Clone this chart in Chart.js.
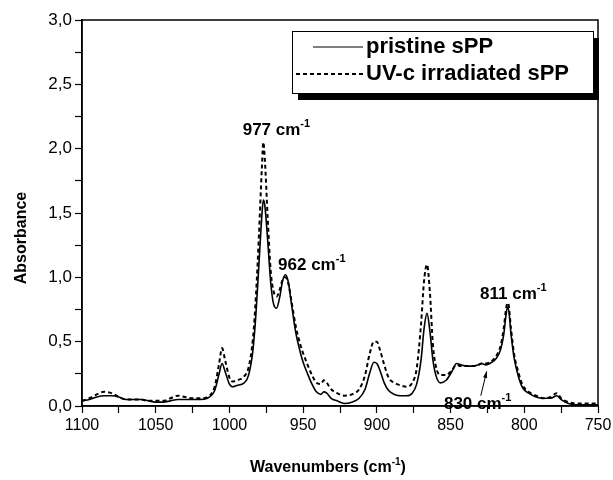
<!DOCTYPE html>
<html lang="en">
<head>
  <meta charset="UTF-8" />
  <title>FTIR sPP</title>
  <script src="https://cdn.jsdelivr.net/npm/chart.js"></script>
  <style>
    html, body { margin: 0; padding: 0; background: #fff; }
    #wrap { width: 613px; height: 480px; position: relative; }
  </style>
</head>
<body>
  <div id="wrap"><canvas id="ftir"></canvas></div>
  <script>
    // wavenumbers (cm-1) and absorbance
    const wavenumbers = [1100, 1095, 1090, 1085, 1080, 1075, 1070, 1065, 1060, 1055, 1050, 1045, 1040, 1035, 1030, 1025, 1020, 1015, 1010, 1007, 1005, 1003, 1000, 998, 995, 990, 987, 984, 982, 980, 978, 977, 976, 974, 972, 970, 968, 966, 964, 962, 960, 958, 955, 952, 950, 947, 944, 941, 938, 936, 934, 931, 927, 922, 917, 912, 908, 905, 902, 900, 898, 895, 892, 888, 884, 880, 876, 873, 870, 868, 866, 864, 862, 860, 857, 853, 849, 846, 843, 839, 835, 831, 829, 826, 822, 819, 816, 814, 812, 811, 809, 807, 804, 801, 797, 792, 787, 782, 778, 775, 770, 765, 760, 755, 750];
    const pristine = [0.04, 0.05, 0.07, 0.08, 0.08, 0.07, 0.05, 0.05, 0.05, 0.04, 0.03, 0.03, 0.04, 0.05, 0.05, 0.05, 0.05, 0.06, 0.12, 0.25, 0.33, 0.27, 0.17, 0.15, 0.16, 0.18, 0.24, 0.44, 0.72, 1.10, 1.48, 1.60, 1.56, 1.28, 0.96, 0.79, 0.76, 0.84, 0.97, 1.02, 0.96, 0.80, 0.57, 0.42, 0.34, 0.25, 0.17, 0.11, 0.09, 0.11, 0.10, 0.06, 0.04, 0.02, 0.03, 0.06, 0.13, 0.25, 0.34, 0.33, 0.28, 0.18, 0.12, 0.09, 0.08, 0.08, 0.10, 0.17, 0.36, 0.60, 0.72, 0.58, 0.36, 0.24, 0.18, 0.20, 0.27, 0.33, 0.32, 0.31, 0.31, 0.32, 0.33, 0.32, 0.34, 0.37, 0.44, 0.55, 0.74, 0.77, 0.56, 0.38, 0.23, 0.14, 0.10, 0.07, 0.06, 0.06, 0.08, 0.05, 0.02, 0.01, 0.01, 0.01, 0.01];
    const irradiated = [0.04, 0.06, 0.09, 0.11, 0.10, 0.07, 0.05, 0.05, 0.05, 0.04, 0.04, 0.04, 0.06, 0.08, 0.07, 0.06, 0.06, 0.07, 0.15, 0.33, 0.45, 0.36, 0.22, 0.19, 0.20, 0.23, 0.30, 0.53, 0.86, 1.32, 1.85, 2.05, 1.92, 1.45, 1.05, 0.89, 0.85, 0.90, 0.98, 1.00, 0.95, 0.82, 0.62, 0.48, 0.41, 0.32, 0.24, 0.18, 0.17, 0.20, 0.18, 0.13, 0.10, 0.08, 0.09, 0.13, 0.24, 0.40, 0.50, 0.50, 0.44, 0.32, 0.22, 0.18, 0.16, 0.15, 0.18, 0.29, 0.64, 0.97, 1.10, 0.88, 0.48, 0.31, 0.24, 0.24, 0.28, 0.32, 0.31, 0.31, 0.31, 0.32, 0.33, 0.33, 0.35, 0.39, 0.47, 0.60, 0.78, 0.80, 0.60, 0.41, 0.26, 0.16, 0.11, 0.08, 0.06, 0.07, 0.10, 0.06, 0.03, 0.02, 0.02, 0.02, 0.02];

    const seriesNames = ['pristine sPP', 'UV-c irradiated sPP'];
    const xTitle = 'Wavenumbers (cm';
    const yTitle = 'Absorbance';
    // peak labels: text, left edge (cm-1), baseline (absorbance)
    const peakText = ['977 cm', '962 cm', '811 cm', '830 cm'];
    const peakAt = [991, 967, 830, 854.5];
    const peakBase = [2.11, 1.06, 0.83, -0.025];

    const FONT = "'Liberation Sans', Arial, sans-serif";

    const pts = arr => wavenumbers.map((w, i) => ({ x: w, y: arr[i] }));

    function supText(ctx, base, sup, x, y, size, supSize, rise) {
      ctx.font = 'bold ' + size + 'px ' + FONT;
      ctx.fillText(base, x, y);
      let w = ctx.measureText(base).width;
      ctx.font = 'bold ' + supSize + 'px ' + FONT;
      ctx.fillText(sup, x + w, y - rise);
      return w + ctx.measureText(sup).width;
    }

    const frame = {
      id: 'frame',
      afterDraw(chart) {
        const { ctx, chartArea: a, scales } = chart;
        ctx.save();
        ctx.strokeStyle = '#000';
        ctx.lineWidth = 1.5;
        ctx.strokeRect(a.left, a.top, a.right - a.left, a.bottom - a.top);

        // peak annotations
        ctx.fillStyle = '#000';
        ctx.textBaseline = 'alphabetic';
        ctx.textAlign = 'left';
        peakText.forEach((t, i) => {
          const x = scales.x.getPixelForValue(peakAt[i]);
          const y = scales.y.getPixelForValue(peakBase[i]);
          supText(ctx, t, '-1', x, y, 17, 11, 8);
        });

        // axis titles
        ctx.font = 'bold 16px ' + FONT;
        const w1 = ctx.measureText(xTitle).width;
        ctx.font = 'bold 10px ' + FONT;
        const w2 = ctx.measureText('-1').width;
        ctx.font = 'bold 16px ' + FONT;
        const w3 = ctx.measureText(')').width;
        let x0 = 328 - (w1 + w2 + w3) / 2;
        const xb = 472;
        supText(ctx, xTitle, '-1', x0, xb, 16, 10, 7);
        ctx.font = 'bold 16px ' + FONT;
        ctx.fillText(')', x0 + w1 + w2, xb);

        ctx.save();
        ctx.translate(22, 238);
        ctx.rotate(-Math.PI / 2);
        ctx.textAlign = 'center';
        ctx.textBaseline = 'middle';
        ctx.font = 'bold 16px ' + FONT;
        ctx.fillText(yTitle, 0, 0);
        ctx.restore();

        // arrow to the 830 shoulder
        const tx = scales.x.getPixelForValue(825.5), ty = scales.y.getPixelForValue(0.27);
        const fx = scales.x.getPixelForValue(829.5), fy = scales.y.getPixelForValue(0.08);
        ctx.lineWidth = 1;
        ctx.beginPath();
        ctx.moveTo(fx, fy);
        ctx.lineTo(tx, ty);
        ctx.stroke();
        const ang = Math.atan2(ty - fy, tx - fx);
        ctx.beginPath();
        ctx.moveTo(tx, ty);
        ctx.lineTo(tx - 7 * Math.cos(ang - 0.3), ty - 7 * Math.sin(ang - 0.3));
        ctx.lineTo(tx - 7 * Math.cos(ang + 0.3), ty - 7 * Math.sin(ang + 0.3));
        ctx.closePath();
        ctx.fill();

        // legend box with shadow
        const lx = 292, ly = 31, lw = 301, lh = 62;
        ctx.fillStyle = '#000';
        ctx.fillRect(lx + 6, ly + 7, lw, lh);
        ctx.fillStyle = '#fff';
        ctx.fillRect(lx, ly, lw, lh);
        ctx.lineWidth = 1;
        ctx.strokeRect(lx + 0.5, ly + 0.5, lw, lh);
        ctx.fillStyle = '#000';
        ctx.font = 'bold 22px ' + FONT;
        ctx.textBaseline = 'middle';
        // solid sample
        ctx.lineWidth = 1.2;
        ctx.beginPath();
        ctx.moveTo(313, 47);
        ctx.lineTo(363, 47);
        ctx.stroke();
        ctx.fillText(seriesNames[0], 366, 47);
        // dashed sample
        ctx.lineWidth = 2;
        ctx.setLineDash([4, 3]);
        ctx.beginPath();
        ctx.moveTo(296, 74);
        ctx.lineTo(363, 74);
        ctx.stroke();
        ctx.setLineDash([]);
        ctx.fillText(seriesNames[1], 366, 74);
        ctx.restore();
      }
    };

    new Chart(document.getElementById('ftir'), {
      type: 'line',
      data: {
        datasets: [
          {
            label: seriesNames[0],
            data: pts(pristine),
            borderColor: '#000',
            borderWidth: 1.6,
            pointRadius: 0,
            cubicInterpolationMode: 'monotone'
          },
          {
            label: seriesNames[1],
            data: pts(irradiated),
            borderColor: '#000',
            borderWidth: 2,
            borderDash: [4, 3],
            pointRadius: 0,
            cubicInterpolationMode: 'monotone'
          }
        ]
      },
      options: {
        responsive: true,
        maintainAspectRatio: false,
        animation: false,
        layout: { padding: { left: 0, right: 15, top: 20, bottom: 0 } },
        plugins: { legend: { display: false }, tooltip: { enabled: false } },
        scales: {
          x: {
            type: 'linear',
            reverse: true,
            min: 750,
            max: 1100,
            afterFit(s) { s.height = 74; s.paddingLeft = 0; s.paddingRight = 0; },
            afterBuildTicks(s) {
              s.ticks = [];
              for (let v = 750; v <= 1100; v += 25) s.ticks.push({ value: v });
            },
            ticks: {
              color: '#000',
              font: { family: FONT, size: 16 },
              padding: 3,
              maxRotation: 0,
              autoSkip: false,
              callback: v => (v % 50 === 0 ? String(v) : '')
            },
            grid: { drawOnChartArea: false, tickLength: 7, color: '#000', tickWidth: 1.2 },
            border: { color: '#000', width: 1.5 }
          },
          y: {
            min: 0,
            max: 3,
            afterFit(s) { s.width = 82; s.paddingTop = 0; s.paddingBottom = 0; },
            ticks: {
              stepSize: 0.25,
              color: '#000',
              font: { family: FONT, size: 17 },
              padding: 3,
              autoSkip: false,
              callback: v => (Math.abs(v * 2 - Math.round(v * 2)) < 1e-6 ? v.toFixed(1).replace('.', ',') : '')
            },
            grid: { drawOnChartArea: false, tickLength: 7, color: '#000', tickWidth: 1.2 },
            border: { color: '#000', width: 1.5 }
          }
        }
      },
      plugins: [frame]
    });
  </script>
</body>
</html>
